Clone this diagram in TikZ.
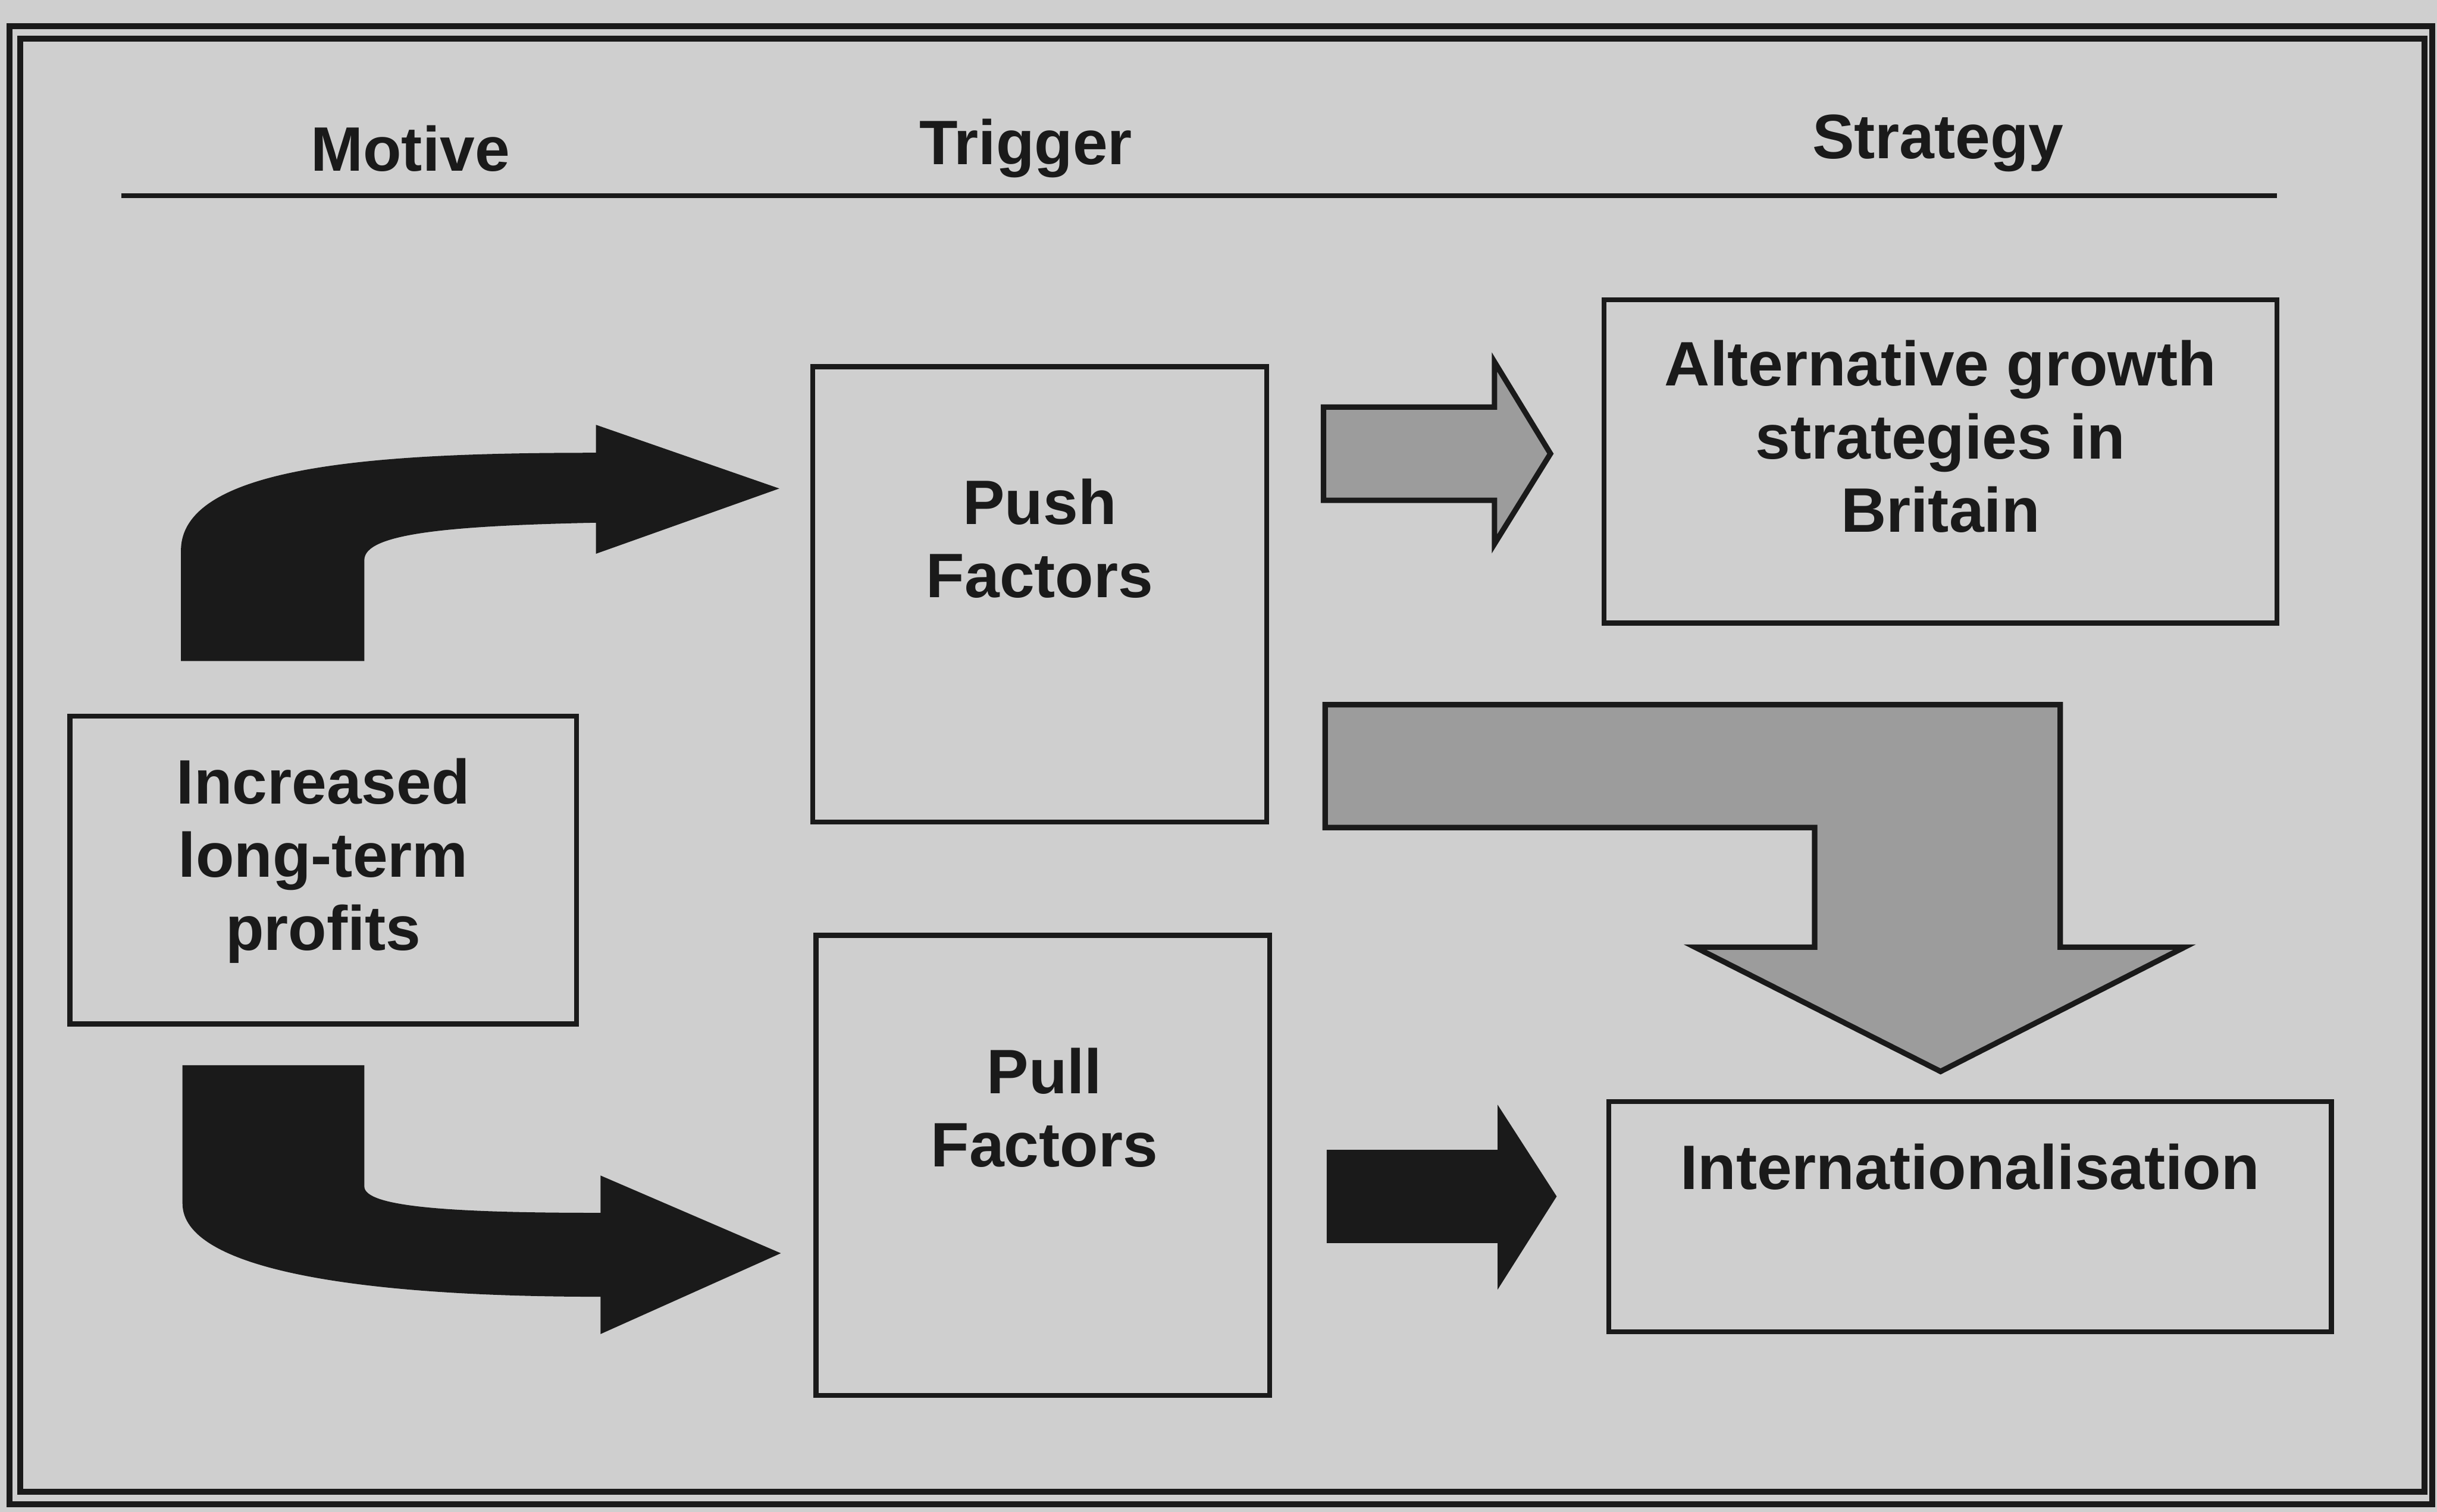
\documentclass[tikz,border=0pt]{standalone}
\usepackage{fontspec}
\setmainfont{Liberation Sans}
\usetikzlibrary{calc,fit}
\definecolor{paper}{RGB}{207,207,207}
\definecolor{ink}{RGB}{26,26,26}
\definecolor{speckle}{RGB}{156,156,156}
\tikzset{
  outerframe/.style={draw=ink,line width=1.1pt},
  hrule/.style={draw=ink,line width=0.9pt},
  box/.style={draw=ink,line width=0.9pt,inner sep=0pt},
  lbl/.style={text=ink,font=\fontsize{11.5}{13.4}\selectfont\bfseries,align=center,inner sep=0pt},
  colhead/.style={text=ink,font=\fontsize{11.5}{13.4}\selectfont\bfseries,anchor=base,inner sep=0pt},
  blackarrow/.style={fill=ink},
  grayarrow/.style={fill=speckle,draw=ink,line width=1pt,line join=miter},
}

\begin{document}
\begin{tikzpicture}[x=0.1mm,y=-0.1mm]
  \fill[paper] (0,0) rectangle (1568,973);
  \useasboundingbox (0,0) rectangle (1568,973);
  % double frame
  \draw[outerframe] (6,17) rectangle (1565,968);
  \draw[outerframe] (13,25) rectangle (1560,960);

  % column heads
  \foreach \t/\x/\y [count=\i] in {Motive/264/110,Trigger/660/106,Strategy/1247/102}
    \node[colhead] (h\i) at (\x,\y) {\t};
  \draw[hrule] (78,126) -- (1465,126);

  % boxes
  \node[box,fit={(45,461) (371,659)}] (motive) {};
  \node[box,fit={(523,236) (815,529)}] (push) {};
  \node[box,fit={(525,602) (817,898)}] (pull) {};
  \node[box,fit={(1032,193) (1465,401)}] (alt) {};
  \node[box,fit={(1035,709) (1500,857)}] (intl) {};

  \node[lbl] (motiveTxt) at ($(motive.center)+(0,-6)$) {Increased\\long-term\\profits};
  \node[lbl] (pushTxt) at ($(push.center)+(0,-36)$) {Push\\Factors};
  \node[lbl] (pullTxt) at ($(pull.center)+(1,-37)$) {Pull\\Factors};
  \node[lbl] (altTxt) at ($(alt.center)+(0,-16)$) {Alternative growth\\strategies in\\Britain};
  \node[lbl] (intlTxt) at ($(intl.center)+(0,-32)$) {Internationalisation};

  % arrow tails
  \coordinate (upTail) at ($(motive.north west)+(73,-34)$);
  \coordinate (dnTail) at ($(motive.south west)+(74,25)$);
  \coordinate (pushOut) at ($(push.east |- alt.west)+(35,-5)$);
  \coordinate (pullOut) at ($(pull.east |- intl.west)+(35,-13)$);
  \coordinate (bendTail) at ($(push.east |- alt.south)+(36,51)$);

  % motive -> push
  \begin{scope}[shift={(upTail)}]
    \fill[blackarrow] (0,0) -- (0,-71) .. controls (0,-127) and (132,-134) .. (267,-134)
      -- (267,-152) -- (385,-111) -- (267,-69) -- (267,-89)
      .. controls (172,-87) and (118,-82) .. (118,-65) -- (118,0) -- cycle;
  \end{scope}
  % motive -> pull
  \begin{scope}[shift={(dnTail)}]
    \fill[blackarrow] (0,0) -- (0,89) .. controls (0,131) and (111,149) .. (269,149)
      -- (269,173) -- (385,121) -- (269,71) -- (269,95)
      .. controls (171,95) and (117,91) .. (117,78) -- (117,0) -- cycle;
  \end{scope}
  % push -> alt
  \begin{scope}[shift={(pushOut)}]
    \filldraw[grayarrow] (0,-30) -- (110,-30) -- (110,-59) -- (146,0) -- (110,58)
      -- (110,30) -- (0,30) -- cycle;
  \end{scope}
  % push -> intl
  \begin{scope}[shift={(bendTail)}]
    \filldraw[grayarrow] (0,0) -- (473,0) -- (473,156) -- (553,156) -- (396,236)
      -- (238,156) -- (315,156) -- (315,79) -- (0,79) -- cycle;
  \end{scope}
  % pull -> intl
  \begin{scope}[shift={(pullOut)}]
    \fill[blackarrow] (0,-30) -- (110,-30) -- (110,-59) -- (148,0) -- (110,60)
      -- (110,30) -- (0,30) -- cycle;
  \end{scope}
\end{tikzpicture}
\end{document}
